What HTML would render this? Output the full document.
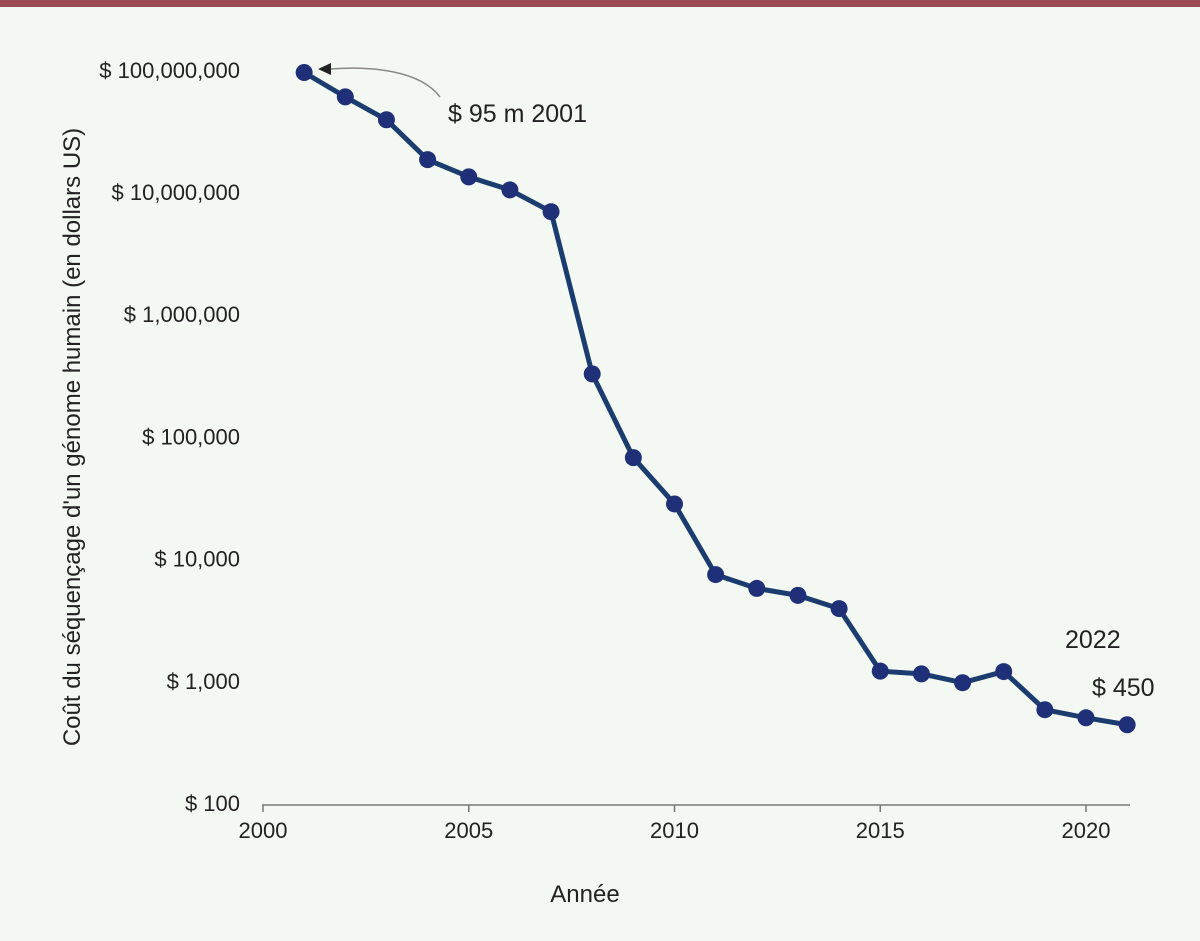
<!DOCTYPE html>
<html><head><meta charset="utf-8"><style>
body{margin:0;background:#f4f8f2;}
svg{display:block;font-family:"Liberation Sans Narrow","Liberation Sans",sans-serif;}
</style></head><body>
<svg id="chart" width="1200" height="941" viewBox="0 0 1200 941">
<rect x="0" y="0" width="1200" height="941" fill="#f4f8f2"/>
<rect x="0" y="0" width="1200" height="7" fill="#9b4a55"/>
<g id="yticks"></g>
<g id="xaxis"></g>
<text x="0" y="0" transform="translate(80,437) rotate(-90)" text-anchor="middle" font-size="24" fill="#222">Coût du séquençage d'un génome humain (en dollars US)</text>
<text x="585" y="902" text-anchor="middle" font-size="24" fill="#222">Année</text>
<g id="series"></g>
<path d="M440,97 C420,70 370,66 330,69" fill="none" stroke="#888" stroke-width="1.5"/>
<polygon points="318,69 331,63 331,75" fill="#222"/>
<text x="448" y="122" font-size="25" fill="#222">$ 95 m   2001</text>
<text x="1065" y="648" font-size="25" fill="#222">2022</text>
<text x="1092" y="696" font-size="25" fill="#222">$ 450</text>
</svg>
<script>
const years=[2001,2002,2003,2004,2005,2006,2007,2008,2009,2010,2011,2012,2013,2014,2015,2016,2017,2018,2019,2020,2021];
const costs=[95000000,60000000,39000000,18400000,13300000,10400000,6900000,325000,67000,28000,7400,5700,5000,3900,1200,1140,965,1190,580,498,437];
const yTickValues=[100,1000,10000,100000,1000000,10000000,100000000];
const yTickLabels=["$ 100","$ 1,000","$ 10,000","$ 100,000","$ 1,000,000","$ 10,000,000","$ 100,000,000"];
const xTickValues=[2000,2005,2010,2015,2020];
const NS="http://www.w3.org/2000/svg";
const xs=y=>263+(y-2000)*41.15;
const ys=v=>803-(Math.log10(v)-2)*122.2;
function mk(t,a,p){const e=document.createElementNS(NS,t);for(const k in a)e.setAttribute(k,a[k]);p.appendChild(e);return e;}
const yg=document.getElementById('yticks');
yTickValues.forEach((v,i)=>{
 const t=mk('text',{x:240,y:ys(v)+8,'text-anchor':'end','font-size':22,fill:'#222'},yg);
 t.textContent=yTickLabels[i];
 
 
});
const xg=document.getElementById('xaxis');
const ax=mk('line',{x1:262,y1:805,x2:1130,y2:805,stroke:'#777','stroke-width':1.5},xg);


xTickValues.forEach(v=>{
 const l=mk('line',{x1:xs(v),y1:805,x2:xs(v),y2:812,stroke:'#777','stroke-width':1.5},xg);
 
 
 const t=mk('text',{x:xs(v),y:838,'text-anchor':'middle','font-size':22,fill:'#222'},xg);
 t.textContent=v;
 
 
});
const sg=document.getElementById('series');
const pl=mk('polyline',{points:years.map((y,i)=>xs(y)+','+ys(costs[i])).join(' '),fill:'none',stroke:'#1b3c6e','stroke-width':5,'stroke-linejoin':'round'},sg);


years.forEach((y,i)=>{
 const c=mk('circle',{cx:xs(y),cy:ys(costs[i]),r:8.5,fill:'#1f2f78'},sg);
 
 
});
</script>
</body></html>
